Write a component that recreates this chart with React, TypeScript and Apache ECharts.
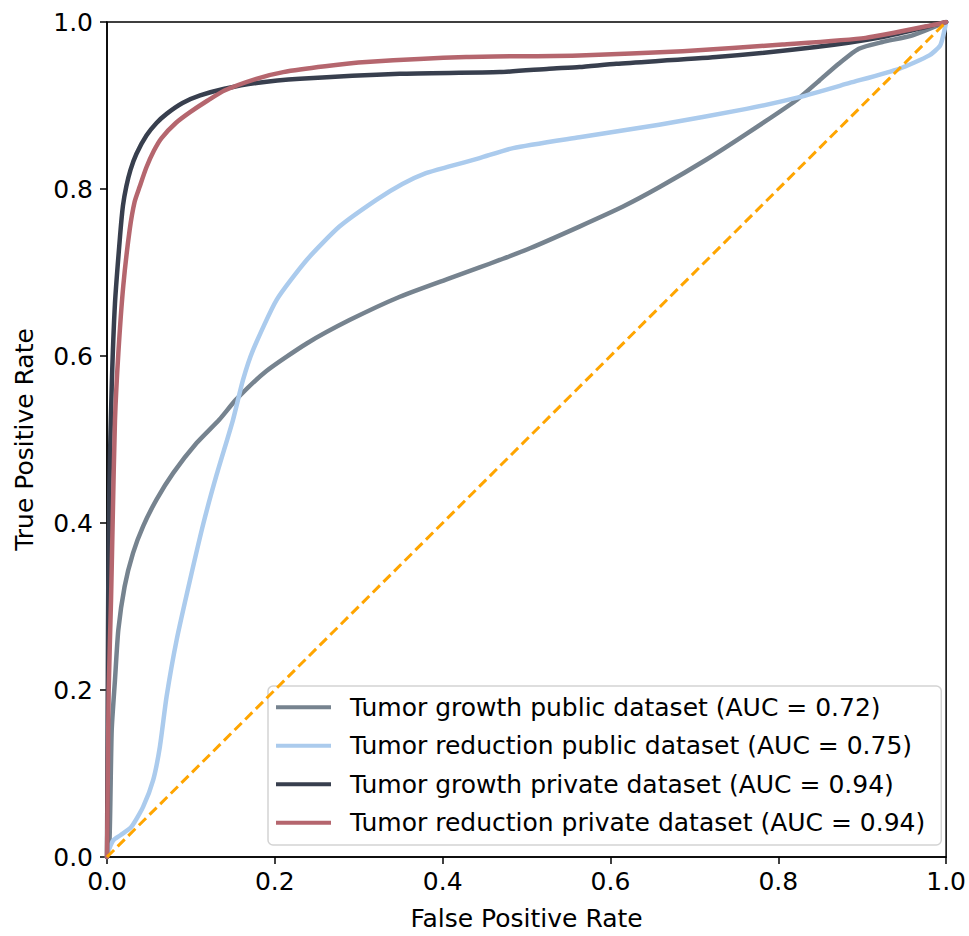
import React, { useEffect, useRef } from "react";
import * as echarts from "echarts";

const seriesNames = [
  "Tumor growth public dataset (AUC = 0.72)",
  "Tumor reduction public dataset (AUC = 0.75)",
  "Tumor growth private dataset (AUC = 0.94)",
  "Tumor reduction private dataset (AUC = 0.94)",
];

const growthPublic: [number, number][] = [
  [0, 0], [0.003, 0.02], [0.0056, 0.152], [0.0095, 0.212], [0.0135, 0.272], [0.021, 0.324],
  [0.031, 0.364], [0.043, 0.396], [0.059, 0.428], [0.079, 0.46], [0.107, 0.496], [0.134, 0.524],
  [0.154, 0.548], [0.19, 0.582], [0.238, 0.615], [0.289, 0.643], [0.349, 0.671], [0.408, 0.693],
  [0.444, 0.706], [0.468, 0.715], [0.504, 0.729], [0.563, 0.755], [0.615, 0.779], [0.658, 0.802],
  [0.714, 0.835], [0.762, 0.866], [0.821, 0.906], [0.849, 0.93], [0.872, 0.95], [0.896, 0.968],
  [0.924, 0.976], [0.96, 0.984], [1, 1],
];

const reductionPublic: [number, number][] = [
  [0, 0], [0.002, 0.008], [0.0075, 0.02], [0.016, 0.026], [0.029, 0.036], [0.043, 0.06],
  [0.055, 0.092], [0.063, 0.132], [0.071, 0.192], [0.083, 0.26], [0.099, 0.332], [0.115, 0.4],
  [0.131, 0.459], [0.15, 0.523], [0.162, 0.571], [0.174, 0.607], [0.202, 0.667], [0.238, 0.715],
  [0.277, 0.755], [0.321, 0.787], [0.352, 0.806], [0.38, 0.819], [0.408, 0.827], [0.444, 0.837],
  [0.484, 0.849], [0.563, 0.862], [0.658, 0.877], [0.762, 0.896], [0.825, 0.91], [0.885, 0.927],
  [0.944, 0.944], [0.98, 0.96], [0.993, 0.972], [0.998, 0.99], [1, 1],
];

const growthPrivate: [number, number][] = [
  [0, 0], [0.0005, 0.1], [0.001, 0.22], [0.0015, 0.324], [0.0028, 0.443], [0.0056, 0.563],
  [0.0095, 0.663], [0.0155, 0.743], [0.019, 0.78], [0.023, 0.803], [0.028, 0.823], [0.035, 0.842],
  [0.047, 0.864], [0.059, 0.879], [0.071, 0.89], [0.09, 0.903], [0.111, 0.912], [0.14, 0.92],
  [0.178, 0.927], [0.23, 0.932], [0.349, 0.938], [0.468, 0.94], [0.527, 0.944], [0.563, 0.946],
  [0.607, 0.95], [0.726, 0.958], [0.845, 0.97], [0.924, 0.982], [0.992, 0.998], [1, 1],
];

const reductionPrivate: [number, number][] = [
  [0, 0], [0.001, 0.1], [0.002, 0.2], [0.0048, 0.308], [0.0068, 0.404], [0.0095, 0.523],
  [0.0135, 0.603], [0.0194, 0.684], [0.027, 0.751], [0.033, 0.785], [0.039, 0.803], [0.047, 0.826],
  [0.056, 0.846], [0.065, 0.861], [0.082, 0.879], [0.099, 0.892], [0.12, 0.906], [0.14, 0.918],
  [0.178, 0.932], [0.21, 0.94], [0.26, 0.947], [0.309, 0.952], [0.428, 0.958], [0.563, 0.96],
  [0.686, 0.965], [0.805, 0.973], [0.904, 0.981], [0.992, 0.998], [1, 1],
];

const chanceLine: [number, number][] = [[0, 0], [1, 1]];

const colors = ["#76838f", "#abcbed", "#383f4e", "#b5666e"];
const fontFamily = "DejaVu Sans";

export default function App() {
  const ref = useRef<HTMLDivElement>(null);
  useEffect(() => {
    if (!ref.current) return;
    const chart = echarts.init(ref.current, undefined, { renderer: "svg" });
    const datasets = [growthPublic, reductionPublic, growthPrivate, reductionPrivate];
    const lineSeries = datasets.map((d, i) => ({
      name: seriesNames[i],
      type: "line",
      data: d,
      symbol: "none",
      showSymbol: false,
      smooth: 0.2,
      lineStyle: { color: colors[i], width: 4.5, cap: "round", join: "round" },
      itemStyle: { color: colors[i] },
      z: 2 + i,
    }));
    chart.setOption({
      animation: false,
      backgroundColor: "#ffffff",
      grid: {
        left: 107,
        top: 22,
        width: 840,
        height: 835,
        show: true,
        borderColor: "#000",
        borderWidth: 1.5,
        backgroundColor: "transparent",
      },
      xAxis: {
        type: "value",
        min: 0,
        max: 1,
        interval: 0.2,
        name: "False Positive Rate",
        nameLocation: "middle",
        nameGap: 49,
        nameTextStyle: { fontFamily, fontSize: 25, color: "#000" },
        axisLine: { show: true, lineStyle: { color: "#000", width: 1.5 } },
        axisTick: { show: true, inside: false, length: 7, lineStyle: { color: "#000", width: 1.5 } },
        axisLabel: {
          fontFamily,
          fontSize: 25,
          color: "#000",
          margin: 12,
          formatter: (v: number) => v.toFixed(1),
        },
        splitLine: { show: false },
      },
      yAxis: {
        type: "value",
        min: 0,
        max: 1,
        interval: 0.2,
        name: "True Positive Rate",
        nameLocation: "middle",
        nameGap: 70,
        nameTextStyle: { fontFamily, fontSize: 25, color: "#000" },
        axisLine: { show: true, lineStyle: { color: "#000", width: 1.5 } },
        axisTick: { show: true, inside: false, length: 7, lineStyle: { color: "#000", width: 1.5 } },
        axisLabel: {
          fontFamily,
          fontSize: 25,
          color: "#000",
          margin: 14,
          formatter: (v: number) => v.toFixed(1),
        },
        splitLine: { show: false },
      },
      legend: {
        data: seriesNames,
        orient: "vertical",
        left: 268,
        top: 686,
        icon: "rect",
        itemWidth: 55,
        itemHeight: 4,
        itemGap: 10,
        padding: [7, 16, 8, 8],
        backgroundColor: "rgba(255,255,255,0.8)",
        borderColor: "#d3d3d3",
        borderWidth: 1.5,
        borderRadius: 5,
        textStyle: {
          fontFamily,
          fontSize: 25,
          color: "#000",
          lineHeight: 28.5,
          padding: [0, 0, 0, 14],
        },
        selectedMode: false,
      },
      series: [
        ...lineSeries,
        {
          name: "chance",
          type: "line",
          data: chanceLine,
          symbol: "none",
          lineStyle: { color: "#ffa500", width: 3, type: [10, 5] },
          z: 10,
          silent: true,
        },
      ],
    });
    return () => chart.dispose();
  }, []);
  return (
    <div
      ref={ref}
      style={{ position: "absolute", left: 0, top: 0, width: 969, height: 936 }}
    />
  );
}
